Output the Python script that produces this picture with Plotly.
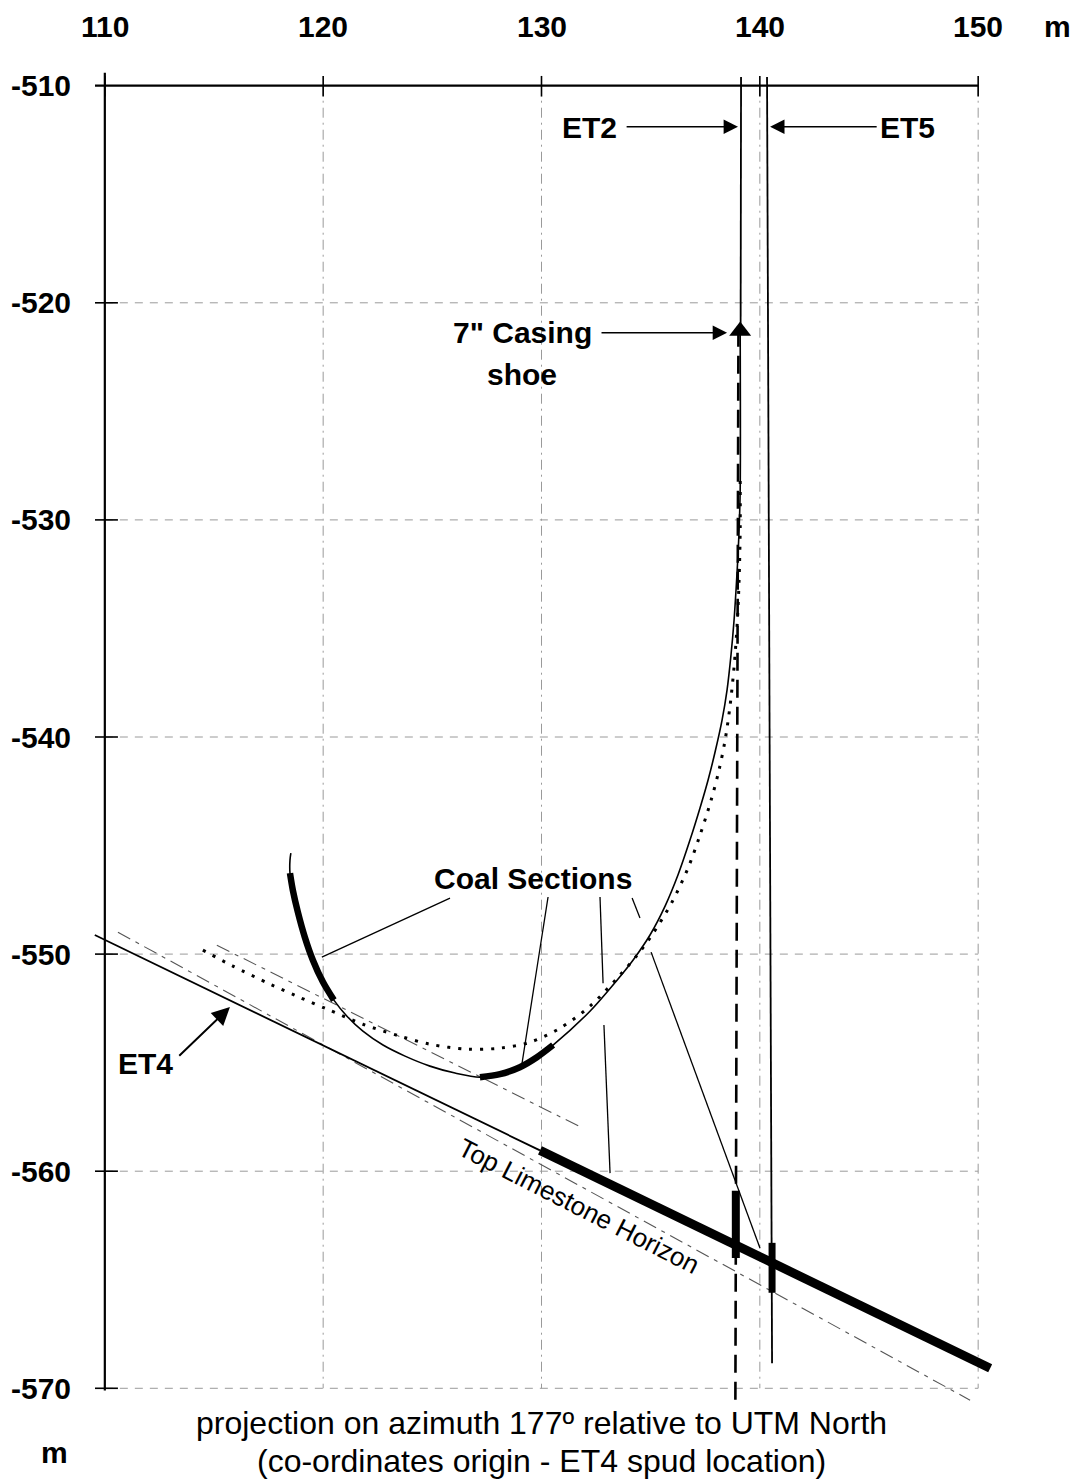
import plotly.graph_objects as go

# ---------------- data (metres) ----------------
x_ticks = [110, 120, 130, 140, 150]
y_ticks = [-510, -520, -530, -540, -550, -560, -570]

# actual trajectory of the sidetrack (solid curve)
traj_x = [139.10, 139.10, 139.05, 139.00, 138.91, 138.82, 138.68, 138.50, 138.27, 137.95,
          137.63, 137.26, 136.80, 136.25, 135.66, 134.97, 134.19, 133.46, 132.22, 130.53,
          129.79, 129.01, 128.10, 127.18, 126.04, 124.89, 123.75, 122.74, 121.82, 121.09,
          120.49, 119.99, 119.53, 119.16, 118.84, 118.61, 118.48, 118.48, 118.52]
traj_y = [-521.24, -528.62, -530.46, -531.61, -533.23, -534.61, -536.22, -537.83, -539.22, -540.69,
          -541.98, -543.27, -544.75, -546.36, -547.79, -549.12, -550.28, -551.20, -552.63, -554.19,
          -554.75, -555.21, -555.53, -555.67, -555.48, -555.16, -554.70, -554.19, -553.55, -552.86,
          -552.12, -551.29, -550.28, -549.22, -548.06, -547.05, -546.27, -545.67, -545.35]

# coal sections on the trajectory
coal1_x = [120.49, 119.99, 119.53, 119.16, 118.84, 118.61, 118.48]
coal1_y = [-552.12, -551.29, -550.28, -549.22, -548.06, -547.05, -546.27]
coal2_x = [130.53, 129.79, 129.01, 128.10, 127.18]
coal2_y = [-554.19, -554.75, -555.21, -555.53, -555.67]

# planned trajectory (dotted)
plan_x = [114.49, 115.86, 117.56, 118.80, 120.17, 121.82, 123.52, 124.89, 126.59, 128.10,
          129.47, 130.85, 132.22, 133.51, 134.38, 135.06, 135.98, 136.71, 137.26, 137.77,
          138.13, 138.41, 138.64, 138.82, 138.96, 139.05, 139.10, 139.10]
plan_y = [-549.82, -550.55, -551.38, -551.94, -552.53, -553.23, -553.78, -554.15, -554.38, -554.33,
          -554.06, -553.41, -552.40, -551.06, -550.05, -549.12, -547.60, -546.04, -544.52, -542.90,
          -541.52, -540.14, -538.53, -536.77, -534.84, -532.77, -530.46, -528.16]

# ET2 well
et2_x = [139.14, 139.12]
et2_y = [-509.6, -521.2]
et2_low_x = [139.02, 138.88]
et2_low_y = [-521.2, -570.6]
et2_coal_x = [138.9, 138.9]
et2_coal_y = [-560.9, -564.0]

# ET5 well
et5_x = [140.33, 140.56]
et5_y = [-509.6, -568.85]
et5_coal_x = [140.56, 140.56]
et5_coal_y = [-563.3, -565.6]

# casing shoe
shoe_x = [139.1]
shoe_y = [-521.3]

# ET4 line and Top Limestone Horizon
et4_x = [109.54, 129.93]
et4_y = [-549.12, -559.04]
horizon_x = [129.93, 150.55]
horizon_y = [-559.04, -569.08]

# dash-dot correlation lines
dda_x = [110.60, 149.63]
dda_y = [-548.99, -570.55]
ddb_x = [115.13, 131.90]
ddb_y = [-549.59, -558.02]

# leader lines of "Coal Sections"
lead_x = [125.81, 119.94, None, 130.30, 129.11, None, 132.68, 132.82, None, 132.86, 133.14, None,
          134.15, 134.51, None, 135.02, 140.01]
lead_y = [-547.42, -550.14, None, -547.37, -555.02, None, -547.37, -551.34, None, -553.27, -560.09, None,
          -547.42, -548.34, None, -549.91, -563.55]

FONT = "Liberation Sans, Arial, sans-serif"
GRID = "#9a9a9a"

fig = go.Figure()


def line(x, y, width=1.5, color="black", dash="solid", shape="linear"):
    ln = dict(width=width, color=color, dash=dash, shape=shape)
    if shape == "spline":
        ln["smoothing"] = 0.9
    fig.add_trace(go.Scatter(x=x, y=y, mode="lines", hoverinfo="skip", showlegend=False, line=ln))


# grid (dashed) limited to the frame
for yv in y_ticks[1:]:
    line([x_ticks[0], x_ticks[-1]], [yv, yv], 1, GRID, "8px,7px")
for xv in x_ticks[1:]:
    line([xv, xv], [y_ticks[0], y_ticks[-1]], 1, GRID, "10px,5px,2px,5px")

# frame axes
line([109.55, x_ticks[-1]], [y_ticks[0], y_ticks[0]], 2.2)
line([x_ticks[0], x_ticks[0]], [-509.4, -570.1], 2.2)
for xv in x_ticks:
    line([xv, xv], [-509.55, -510.5], 1.6)
for yv in y_ticks[1:]:
    line([109.55, 110.6], [yv, yv], 1.6)

# dash-dot correlation lines
line(dda_x, dda_y, 1.1, "#555", "14px,6px,4px,6px")
line(ddb_x, ddb_y, 1.1, "#555", "14px,6px,4px,6px")

# ET4 and horizon
line(et4_x, et4_y, 1.8)
line(horizon_x, horizon_y, 9)

# wells
line(et2_x, et2_y, 1.8)
line(et2_low_x, et2_low_y, 2.6, "black", "18px,9px")
line(et2_coal_x, et2_coal_y, 8)
line(et5_x, et5_y, 1.8)
line(et5_coal_x, et5_coal_y, 7)

# trajectories
line(plan_x, plan_y, 3, "black", "3px,8px", "spline")
line(traj_x, traj_y, 1.6, "black", "solid", "spline")
line(coal1_x, coal1_y, 6.5, "black", "solid", "spline")
line(coal2_x, coal2_y, 6.5, "black", "solid", "spline")

# leader lines
line(lead_x, lead_y, 1.3)

# casing shoe marker
fig.add_trace(go.Scatter(x=shoe_x, y=shoe_y, mode="markers", hoverinfo="skip", showlegend=False,
                         marker=dict(symbol="triangle-up", size=19, color="black")))

ann = []
# tick labels
for xv in x_ticks:
    ann.append(dict(x=xv, y=y_ticks[0], xref="x", yref="y", text=f"<b>{xv}</b>", showarrow=False,
                    yshift=59, font=dict(size=30, family=FONT, color="black")))
ann.append(dict(x=x_ticks[-1], y=y_ticks[0], xref="x", yref="y", text="<b>m</b>", showarrow=False,
                yshift=59, xshift=79, font=dict(size=30, family=FONT, color="black")))
for yv in y_ticks:
    ann.append(dict(x=x_ticks[0], y=yv, xref="x", yref="y", text=f"<b>{yv}</b>", showarrow=False,
                    xanchor="right", xshift=-32, font=dict(size=30, family=FONT, color="black")))
ann.append(dict(x=x_ticks[0], y=y_ticks[-1], xref="x", yref="y", text="<b>m</b>", showarrow=False,
                xshift=-50, yshift=-64, font=dict(size=30, family=FONT, color="black")))


def label(x, y, text, size=30, bold=True, **kw):
    t = f"<b>{text}</b>" if bold else text
    d = dict(x=x, y=y, xref="x", yref="y", text=t, showarrow=False,
             font=dict(size=size, family=FONT, color="black"))
    d.update(kw)
    ann.append(d)


label(132.22, -511.94, "ET2")
label(146.75, -511.94, "ET5")
label(129.15, -521.38, "7\" Casing")
label(129.10, -523.32, "shoe")
label(129.61, -546.50, "Coal Sections")
label(111.88, -555.02, "ET4")
label(131.70, -561.60, "Top Limestone Horizon", size=26, bold=False, textangle=27)


def arrow(x, y, ax, ay, w=1.6):
    ann.append(dict(x=x, y=y, ax=ax, ay=ay, xref="x", yref="y", axref="x", ayref="y", text="",
                    showarrow=True, arrowhead=2, arrowsize=1.8, arrowwidth=w, arrowcolor="black"))


arrow(139.0, -511.89, 133.83, -511.89)
arrow(140.47, -511.89, 145.42, -511.89)
arrow(138.5, -521.38, 132.68, -521.38)
arrow(115.73, -552.44, 113.34, -554.75, 2)

# caption
CAP = dict(size=32, family=FONT, color="black")
ann.append(dict(x=0.5, y=0.0, xref="paper", yref="paper", yshift=-33, showarrow=False,
                text="projection on azimuth 177º relative to UTM North", font=CAP))
ann.append(dict(x=0.5, y=0.0, xref="paper", yref="paper", yshift=-71, showarrow=False,
                text="(co-ordinates origin - ET4 spud location)", font=CAP))

fig.update_layout(
    width=1079, height=1482,
    margin=dict(l=83, r=79, t=64, b=72),
    paper_bgcolor="white", plot_bgcolor="white",
    xaxis=dict(range=[109, 151], visible=False, fixedrange=True),
    yaxis=dict(range=[-571, -509], visible=False, fixedrange=True),
    annotations=ann,
    showlegend=False,
)

fig.write_html("out.html")
